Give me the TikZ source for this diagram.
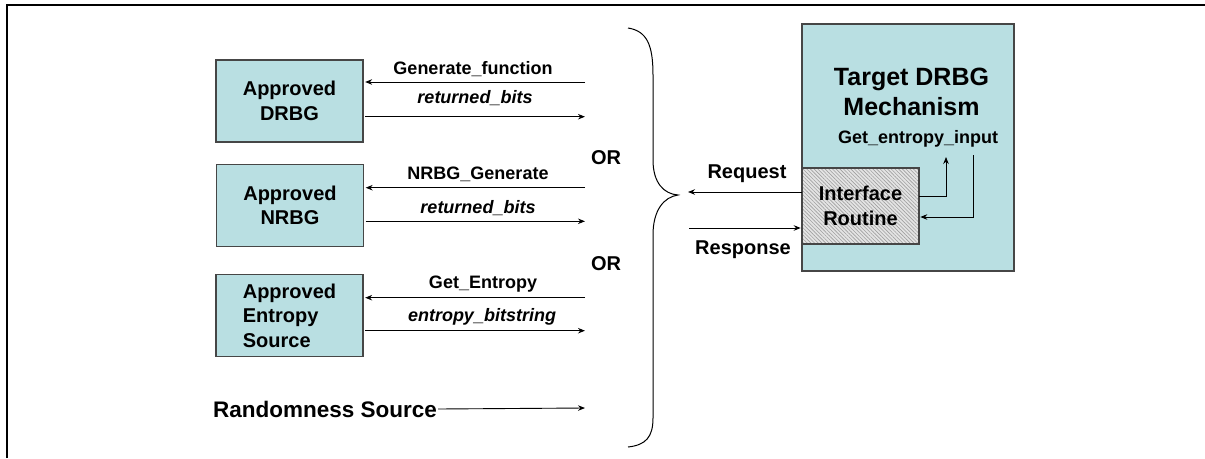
\documentclass[tikz,border=0pt]{standalone}
\usepackage{fontspec}
\setmainfont{Liberation Sans}
\usetikzlibrary{arrows.meta,patterns.meta}

\definecolor{boxfill}{RGB}{185,223,226}
\definecolor{boxline}{RGB}{70,70,70}
\definecolor{hatchbg}{RGB}{228,228,228}

\tikzset{
  srcbox/.style={draw=boxline, line width=1.3pt, fill=boxfill,
    minimum width=147pt, minimum height=82pt, inner sep=0pt,
    font=\fontsize{20}{24.5}\selectfont\bfseries, align=center},
  lbl/.style={inner sep=0pt, font=\fontsize{18}{20}\selectfont\bfseries},
  ilbl/.style={inner sep=0pt, font=\fontsize{18}{20}\selectfont\bfseries\itshape},
  big/.style={inner sep=0pt, font=\fontsize{20}{24}\selectfont\bfseries, align=center},
  flow/.style={line width=0.9pt, -{Stealth[length=7pt,width=5.5pt]}},
}

\begin{document}
\begin{tikzpicture}[x=1pt,y=-1pt]
\useasboundingbox (0,0) rectangle (1205,458);

% outer frame (top and left edges)
\draw[line width=2pt] (7,458) -- (7,4.5) -- (1205,4.5);

% randomness sources
\node[srcbox] (drbg) at (289.5,101) {Approved\\DRBG};
\node[srcbox] (nrbg) at (290,205.5) {Approved\\NRBG};
\node[srcbox, align=left] (ent) at (289.5,315.5) {Approved\\Entropy\\Source};

% free ends of the source connectors
\coordinate (g1) at (585,82);
\coordinate (r1) at (585,116.7);
\coordinate (g2) at (585,187.7);
\coordinate (r2) at (585,221.3);
\coordinate (g3) at (585,297.7);
\coordinate (r3) at (585,330.7);
\coordinate (rsend) at (585,408);

\draw[flow] (g1) -- ([xshift=1.5pt]drbg.east |- g1);
\draw[flow] ([xshift=1.5pt]drbg.east |- r1) -- (r1);
\draw[flow] (g2) -- ([xshift=1.5pt]nrbg.east |- g2);
\draw[flow] ([xshift=1.5pt]nrbg.east |- r2) -- (r2);
\draw[flow] (g3) -- ([xshift=1.5pt]ent.east |- g3);
\draw[flow] ([xshift=1.5pt]ent.east |- r3) -- (r3);

\node[lbl]  (l1) at (473,69) {Generate\_function};
\node[ilbl] (l2) at (475,98) {returned\_bits};
\node[lbl]  (l3) at (478,174) {NRBG\_Generate};
\node[ilbl] (l4) at (478,208) {returned\_bits};
\node[lbl]  (l5) at (483,284) {Get\_Entropy};
\node[ilbl] (l6) at (482,317) {entropy\_bitstring};

\node[inner sep=0pt, anchor=west, font=\fontsize{22.5}{26}\selectfont\bfseries] (rs) at (213,409) {Randomness Source};
\draw[line width=0.9pt, -{Stealth[length=7pt,width=5.5pt]}] ([xshift=1pt]rs.east) -- (rsend);

\node[big] (or1) at (606,158) {OR};
\node[big] (or2) at (606,264) {OR};

% brace gathering the alternatives
\draw[line width=1pt]
  (628,28) .. controls (647,31) and (653,45) .. (653,75)
  -- (653,160) .. controls (653,183) and (664,194) .. (678,195)
  .. controls (664,197) and (653,210) .. (653,235)
  -- (653,418) .. controls (653,437) and (646,445) .. (628,447);

% target mechanism
\node[draw=boxline, line width=1.3pt, fill=boxfill, minimum width=212pt,
      minimum height=247pt, inner sep=0pt] (tgt) at (908,147.5) {};
\node[inner sep=0pt, align=center, font=\fontsize{25}{30}\selectfont\bfseries]
  (ttl) at (911.5,92) {Target DRBG\\Mechanism};
\node[lbl] (gei) at (918,139) {Get\_entropy\_input};

\node[draw=boxline, line width=1.2pt, preaction={fill=hatchbg},
      pattern={Lines[angle=-45,distance=2.6pt,line width=0.6pt]}, pattern color=gray!75,
      minimum width=117pt, minimum height=76pt, inner sep=0pt, align=center,
      font=\fontsize{20}{24.5}\selectfont\bfseries] (iface) at (860.5,206) {Interface\\Routine};

% request / response
\coordinate (req) at (688,192);
\coordinate (resp) at (689,228);
\draw[flow] (iface.west |- req) -- (req);
\draw[flow] (resp) -- ([xshift=-1pt]iface.west |- resp);
\node[big] (reql) at (747,174) {Request};
\node[big] (respl) at (743,250) {Response};

% entropy input loop
\coordinate (ioa) at (946,157);
\coordinate (iob) at (919,196);
\coordinate (ina) at (973,155);
\coordinate (inb) at (919,217);
\draw[flow] (iface.east |- iob) -| (ioa);
\draw[flow] (ina) |- ([xshift=1pt]iface.east |- inb);
\end{tikzpicture}
\end{document}
